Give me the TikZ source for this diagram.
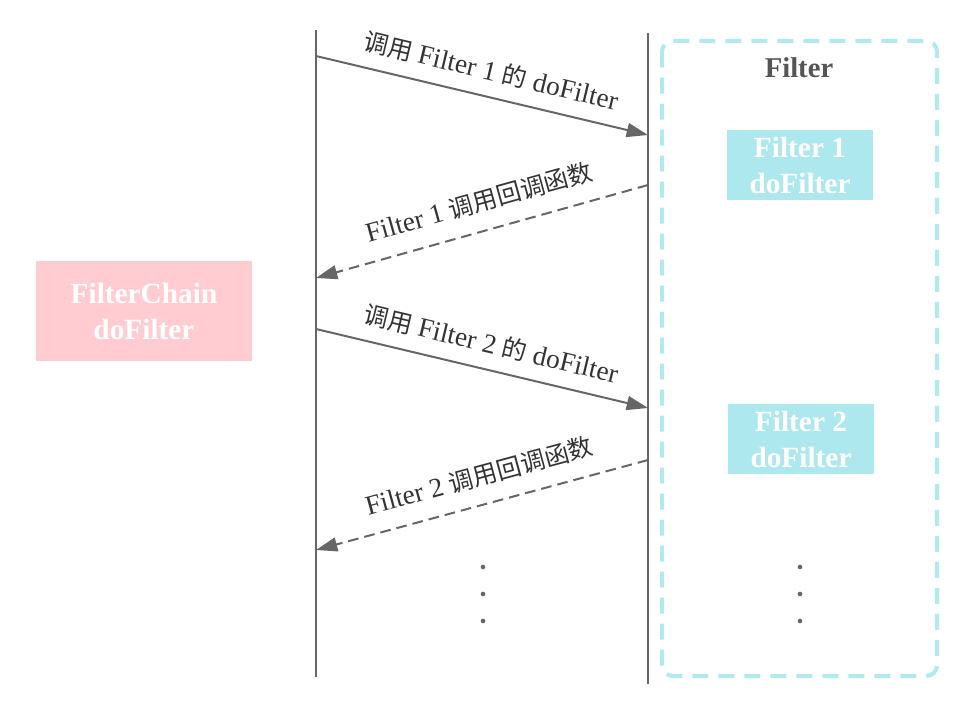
\documentclass[tikz,border=0pt]{standalone}
\usepackage{fontspec}
\setmainfont{Liberation Serif}
\newfontfamily\cjk{Noto Sans CJK SC}
\usetikzlibrary{arrows.meta}
\definecolor{linegray}{HTML}{666666}
\definecolor{labelgray}{HTML}{333333}
\definecolor{titlegray}{HTML}{555555}
\definecolor{cyanfill}{HTML}{AEE8EF}
\definecolor{cyanline}{HTML}{B2E9EE}
\definecolor{pinkfill}{HTML}{FFCCD2}
\newcommand{\zh}[1]{{\cjk\fontsize{18.5}{20}\selectfont #1}}
\begin{document}
\begin{tikzpicture}[x=0.75pt,y=-0.75pt,
  life/.style={draw=linegray, line width=1.5pt},
  msg/.style={draw=linegray, line width=1.5pt, -{Triangle[length=16pt,width=10.5pt]}},
  ret/.style={msg, dash pattern=on 8pt off 4.5pt},
  lbl/.style={font=\fontsize{20.5}{22}\selectfont, text=labelgray, inner sep=0pt},
  cbox/.style={fill=cyanfill, text=white, font=\bfseries\fontsize{22}{27}\selectfont, align=center, minimum width=109.5pt, minimum height=52.5pt, inner sep=0pt},
  pbox/.style={fill=pinkfill, text=white, font=\bfseries\fontsize{22}{27}\selectfont, align=center, minimum width=162pt, minimum height=75pt, inner sep=0pt},
  dot/.style={circle, fill=linegray, inner sep=0pt, minimum size=3.5pt}
]
\useasboundingbox (0,0) rectangle (979,710);
% filter group
\draw[cyanline, line width=3pt, dash pattern=on 12pt off 7.5pt, rounded corners=8pt] (662,41) rectangle (937,676);
\node[font=\bfseries\fontsize{21.5}{24}\selectfont, text=titlegray] (title) at (799,68) {Filter};
\node[cbox] (f1) at (800,165) {Filter 1\\doFilter};
\node[cbox] (f2) at (801,439) {Filter 2\\doFilter};
\node[pbox] (fc) at (144,311) {FilterChain\\doFilter};
% lifelines
\coordinate (lt) at (316,30);
\coordinate (lb) at (316,677);
\coordinate (rt) at (648,33);
\coordinate (rb) at (648,684);
\draw[life] (lt) -- (lb);
\draw[life] (rt) -- (rb);
% message anchors
\coordinate (m1s) at (316,56);
\coordinate (m1e) at (648,135);
\coordinate (m2s) at (648,185);
\coordinate (m2e) at (316,278);
\coordinate (m3s) at (316,329);
\coordinate (m3e) at (648,408);
\coordinate (m4s) at (648,460);
\coordinate (m4e) at (316,550);
\draw[msg] (m1s) -- (m1e);
\draw[ret] (m2s) -- (m2e);
\draw[msg] (m3s) -- (m3e);
\draw[ret] (m4s) -- (m4e);
\node[lbl, rotate=-13.4] (l1) at (491,71) {\zh{调用} Filter 1 \zh{的} doFilter};
\node[lbl, rotate=15.6] (l2) at (479,202) {Filter 1 \zh{调用回调函数}};
\node[lbl, rotate=-13.4] (l3) at (491,344) {\zh{调用} Filter 2 \zh{的} doFilter};
\node[lbl, rotate=15.2] (l4) at (479,476) {Filter 2 \zh{调用回调函数}};
% dots
\node[dot] (d1) at (483,567) {};
\node[dot] (d2) at (483,594) {};
\node[dot] (d3) at (483,621) {};
\node[dot] (d4) at (800,567) {};
\node[dot] (d5) at (800,594) {};
\node[dot] (d6) at (800,621) {};
\end{tikzpicture}
\end{document}
